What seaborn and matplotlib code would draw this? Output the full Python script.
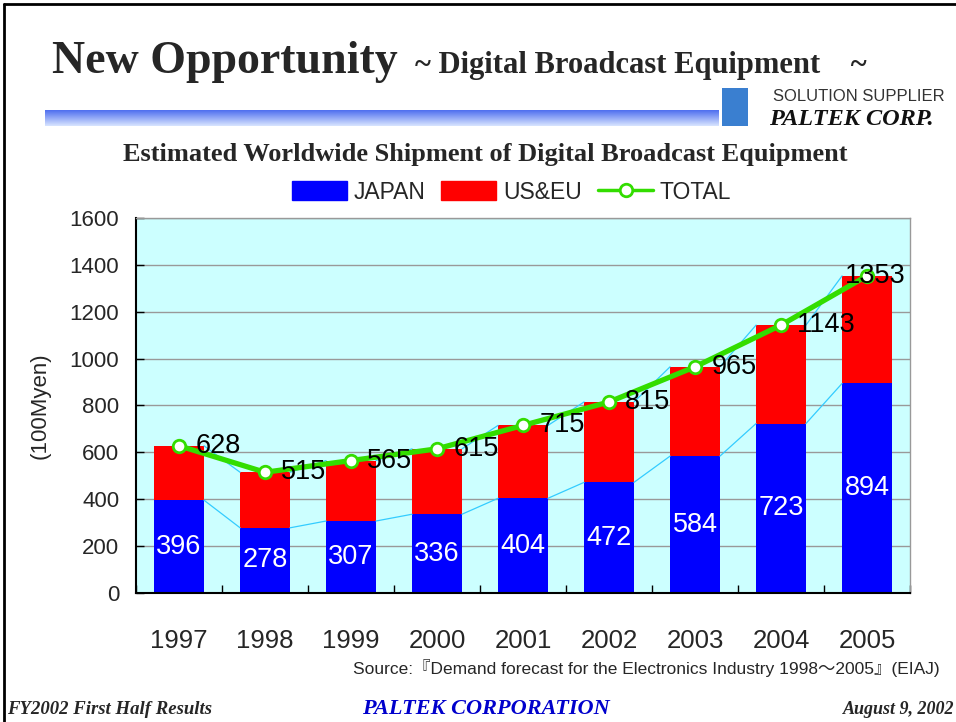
import numpy as np
import pandas as pd
import seaborn as sns
import matplotlib.pyplot as plt
from matplotlib.patches import Patch, Rectangle
from matplotlib.lines import Line2D

years = ['1997', '1998', '1999', '2000', '2001', '2002', '2003', '2004', '2005']
japan = [396, 278, 307, 336, 404, 472, 584, 723, 894]
total = [628, 515, 565, 615, 715, 815, 965, 1143, 1353]

sns.set_theme(style='white')
plt.rcParams['font.family'] = ['Liberation Sans', 'DejaVu Sans']
SERIF = ['Liberation Serif', 'DejaVu Serif']

df = pd.DataFrame({'year': years, 'japan': japan, 'total': total})

fig = plt.figure(figsize=(9.56, 7.22), dpi=100)
ax = fig.add_axes([0.1423, 0.1787, 0.8096, 0.5194])
ax.set_facecolor('#CCFFFF')

# stacked bars: total (red) behind, japan (blue) in front
sns.barplot(data=df, x='year', y='total', color='#FF0000', saturation=1, width=0.58,
            edgecolor='none', ax=ax)
sns.barplot(data=df, x='year', y='japan', color='#0000FF', saturation=1, width=0.58,
            edgecolor='none', ax=ax)

# thin series lines between bar tops
bars = ax.patches
n = len(years)
for group in (bars[:n], bars[n:]):
    for a, b in zip(group[:-1], group[1:]):
        ax.plot([a.get_x() + a.get_width(), b.get_x()], [a.get_height(), b.get_height()],
                color='#33CCFF', lw=0.9, zorder=3)

sns.pointplot(data=df, x='year', y='total', color='#33DD00', markers='o', linewidth=3.8,
              markersize=9, markerfacecolor='white', markeredgecolor='#33DD00',
              markeredgewidth=2, ax=ax, zorder=5)

for i, (j, t) in enumerate(zip(japan, total)):
    ax.text(i, j / 2, str(j), color='white', fontsize=19.5, ha='center', va='center', zorder=6)
    if i < n - 1:
        ax.text(i + 0.19, t, str(t), color='black', fontsize=19.5, ha='left', va='center', zorder=6)
    else:
        # keep the last label inside the plot area
        ax.text(n - 0.55, t, str(t), color='black', fontsize=19.5, ha='right', va='center', zorder=6)

ax.set_ylim(0, 1600)
ax.set_xlim(-0.5, n - 0.5)
ax.set_yticks(range(0, 1601, 200))
ax.yaxis.grid(True, color='#999999', lw=1)
ax.set_axisbelow(True)
ax.tick_params(axis='y', direction='in', length=6, width=1, color='black', labelsize=16,
               left=True, pad=12)
ax.tick_params(axis='x', bottom=False, labelsize=18.5, pad=20)
ax.set_xticks(np.arange(-0.5, n, 1), minor=True)
ax.tick_params(axis='x', which='minor', direction='in', length=6, bottom=True, color='black')
ax.set_xlabel('')
ax.set_ylabel('(100Myen)', fontsize=16, labelpad=14)
for s in ['left', 'bottom']:
    ax.spines[s].set_color('black')
    ax.spines[s].set_linewidth(1.5)
for s in ['top', 'right']:
    ax.spines[s].set_color('#999999')
    ax.spines[s].set_linewidth(1)

handles = [Patch(color='#0000FF', label='JAPAN'), Patch(color='#FF0000', label='US&EU'),
           Line2D([], [], color='#33DD00', lw=2.5, marker='o', markersize=9,
                  markerfacecolor='white', markeredgecolor='#33DD00', markeredgewidth=2,
                  label='TOTAL')]
fig.legend(handles=handles, loc='center', bbox_to_anchor=(0.535, 0.734), ncol=3,
           frameon=False, fontsize=16.5, handlelength=2.4, handleheight=0.85,
           handletextpad=0.3, columnspacing=0.7)

fig.text(0.508, 0.786, 'Estimated Worldwide Shipment of Digital Broadcast Equipment',
         family=SERIF, fontweight='bold', fontsize=19, ha='center', va='center')

# header
fig.text(0.054, 0.914, 'New Opportunity', family=SERIF, fontweight='bold', fontsize=33,
         ha='left', va='center')
fig.text(0.434, 0.909, '~ Digital Broadcast Equipment    ~', family=SERIF, fontweight='bold',
         fontsize=22, ha='left', va='center')
grad = np.linspace(0, 1, 50).reshape(-1, 1)
gax = fig.add_axes([0.047, 0.826, 0.705, 0.022])
gax.imshow(grad, aspect='auto', cmap=sns.blend_palette(['#4F6FEF', '#D8E4FF'], as_cmap=True),
           extent=[0, 1, 0, 1])
gax.axis('off')
fig.patches.append(Rectangle((0.755, 0.826), 0.027, 0.052, transform=fig.transFigure,
                             facecolor='#3A7FD0', edgecolor='none'))
fig.text(0.809, 0.866, 'SOLUTION SUPPLIER', fontsize=12, color='#333333', ha='left',
         va='center')
fig.text(0.804, 0.834, 'PALTEK CORP.', family=SERIF, fontweight='bold', fontstyle='italic',
         fontsize=17.5, ha='left', va='center', color='#111111')

# footer
fig.text(0.983, 0.075, 'Source:\u300eDemand forecast for the Electronics Industry 1998\uff5e2005\u300f(EIAJ)',
         fontsize=12.5, ha='right', va='center',
         family=['Liberation Sans', 'Noto Sans CJK JP', 'DejaVu Sans'])
fig.text(0.007, 0.018, 'FY2002 First Half Results', family=SERIF, fontweight='bold',
         fontstyle='italic', fontsize=13.5, ha='left', va='center')
fig.text(0.508, 0.018, 'PALTEK CORPORATION', family=SERIF, fontweight='bold',
         fontstyle='italic', fontsize=16, ha='center', va='center', color='#0000CC')
fig.text(0.998, 0.018, 'August 9, 2002', family=SERIF, fontweight='bold',
         fontstyle='italic', fontsize=13, ha='right', va='center')

# slide border
fig.add_artist(Line2D([0.004, 0.004], [0, 0.995], transform=fig.transFigure, color='black', lw=2))
fig.add_artist(Line2D([0.004, 1], [0.995, 0.995], transform=fig.transFigure, color='black', lw=2))

fig.savefig('out.png', dpi=100)
